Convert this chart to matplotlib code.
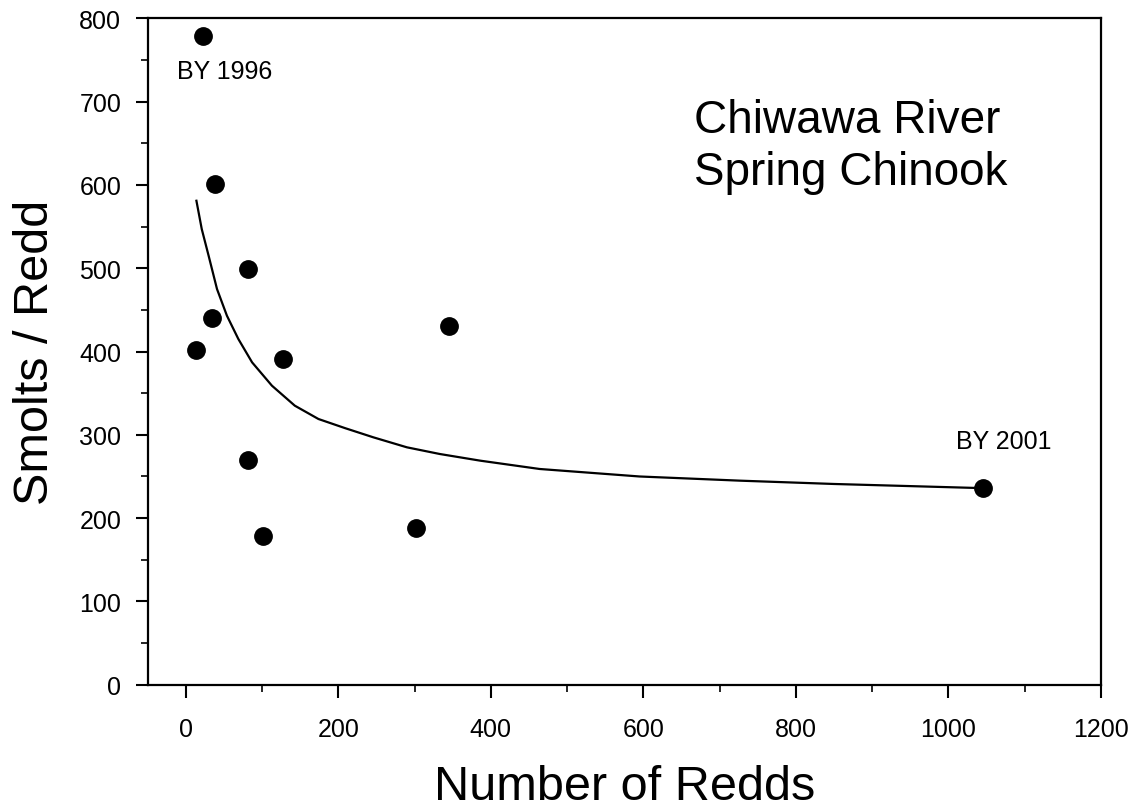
import matplotlib
matplotlib.use("Agg")
import matplotlib.pyplot as plt
from matplotlib.ticker import MultipleLocator

plt.rcParams["font.family"] = ["Liberation Sans", "DejaVu Sans"]

# observed brood years: redds vs smolts per redd
redds = [23, 39, 82, 34, 13, 128, 82, 101, 302, 345, 1045]
smolts_per_redd = [779, 601, 499, 440, 402, 391, 270, 178, 188, 431, 236]

# fitted curve
fit_redds = [14, 21, 30, 41, 54, 69, 87, 113, 143, 174, 209, 246, 290, 333,
             386, 464, 595, 726, 850, 1045]
fit_spr = [581, 547, 515, 475, 443, 415, 387, 359, 335, 319, 308, 297, 285,
           277, 269, 259, 250, 245, 241, 236]

x_ticks = [0, 200, 400, 600, 800, 1000, 1200]
y_ticks = [0, 100, 200, 300, 400, 500, 600, 700, 800]

fig = plt.figure(figsize=(11.38, 8.12), dpi=100)
ax = fig.add_axes([0.1297, 0.1555, 0.8378, 0.8207])

ax.plot(fit_redds, fit_spr, color="black", lw=1.6, zorder=2)
ax.plot(redds, smolts_per_redd, "o", color="black", markersize=12.5,
        linestyle="none", zorder=3)

ax.set_xlim(-50, 1200)
ax.set_ylim(0, 800)
ax.set_xticks(x_ticks)
ax.set_yticks(y_ticks)
ax.xaxis.set_minor_locator(MultipleLocator(100))
ax.yaxis.set_minor_locator(MultipleLocator(50))
ax.tick_params(which="major", direction="out", length=9, width=1.5,
               labelsize=18, pad=10)
ax.tick_params(which="minor", direction="out", length=5, width=1.2)
ax.tick_params(axis="x", which="major", pad=14)
for s in ax.spines.values():
    s.set_linewidth(1.6)

ax.set_xlabel("Number of Redds", fontsize=35, labelpad=17)
ax.set_ylabel("Smolts / Redd", fontsize=35, labelpad=15)

ax.text(-11, 737, "BY 1996", fontsize=18, ha="left", va="center")
ax.text(1073, 292, "BY 2001", fontsize=18, ha="center", va="center")
ax.text(667, 601, "Chiwawa River\nSpring Chinook", fontsize=33,
        ha="left", va="baseline", linespacing=1.24)

fig.savefig("out.png", dpi=100)
